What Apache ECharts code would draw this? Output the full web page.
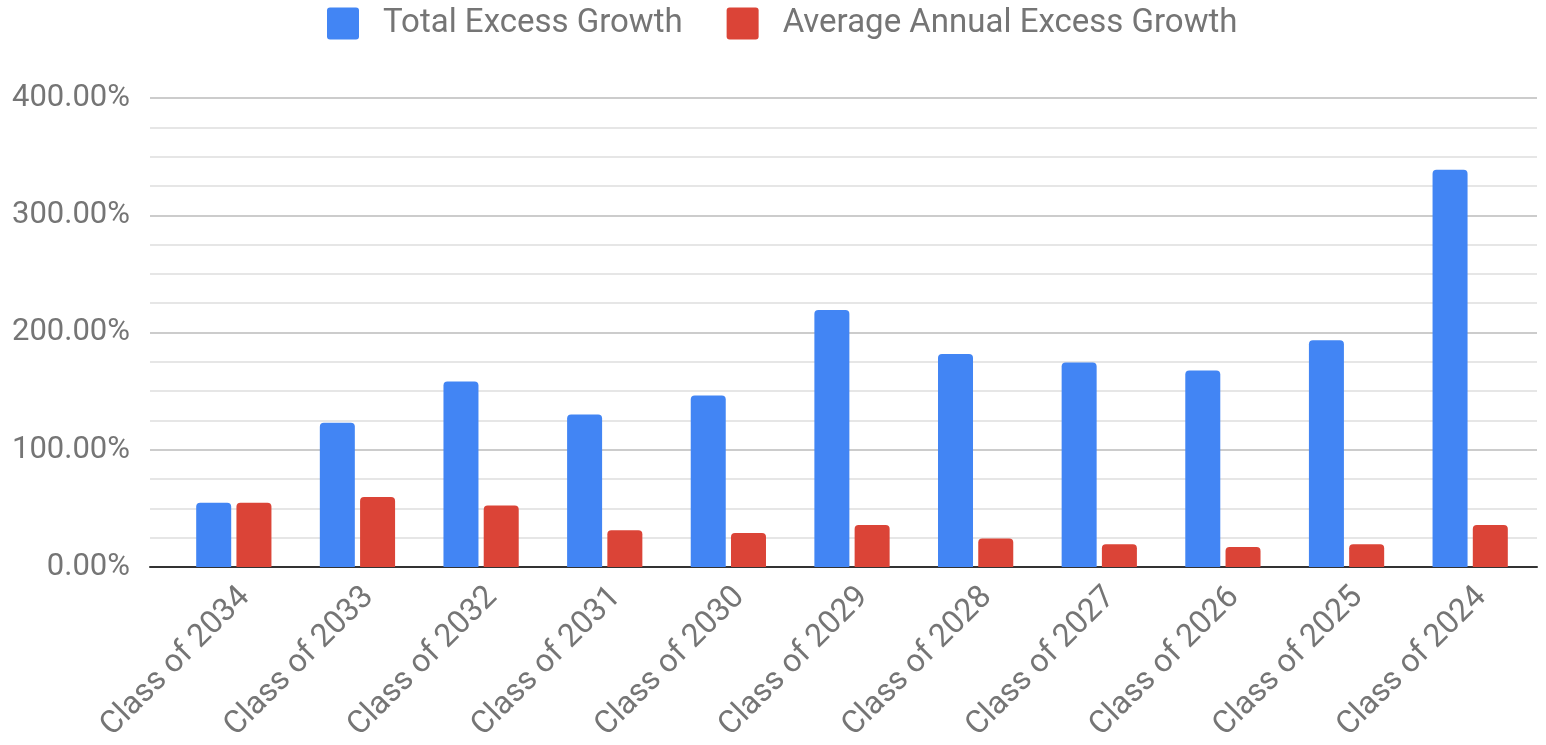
<!DOCTYPE html>
<html>
<head>
<meta charset="utf-8">
<script src="https://cdn.jsdelivr.net/npm/echarts@6/dist/echarts.min.js"></script>
<style>
html,body{margin:0;padding:0;background:#fff;}
#chart{width:1546px;height:745px;}
</style>
</head>
<body>
<div id="chart"></div>
<script>
const categories = ['Class of 2034','Class of 2033','Class of 2032','Class of 2031','Class of 2030','Class of 2029','Class of 2028','Class of 2027','Class of 2026','Class of 2025','Class of 2024'];
const totalExcess = [54.8, 123.1, 158.3, 130.0, 146.3, 219.1, 181.6, 174.4, 167.5, 193.4, 338.7];
const avgAnnualExcess = [54.8, 59.7, 52.5, 31.4, 29.1, 35.9, 24.3, 19.4, 17.1, 19.4, 35.9];
const seriesNames = ['Total Excess Growth', 'Average Annual Excess Growth'];

const chart = echarts.init(document.getElementById('chart'));
const font = 'Roboto';
const grey = '#757575';
const squareIcon = 'path://M3,0H29Q32,0,32,3V29Q32,32,29,32H3Q0,32,0,29V3Q0,0,3,0Z';
chart.setOption({
  animation: false,
  textStyle: {fontFamily: font},
  legend: {
    top: 7, left: 327, padding: 0,
    itemWidth: 32, itemHeight: 32, itemGap: 44,
    icon: squareIcon,
    textStyle: {fontSize: 33, color: grey, fontFamily: font, padding: [0,0,0,19]},
    data: seriesNames
  },
  grid: [
    {left: 172, right: 14, top: 98, bottom: 178},
    {left: 150, right: 9, top: 98, bottom: 178}
  ],
  xAxis: [
    {
      type: 'category', gridIndex: 0, data: categories,
      axisLine: {show: false}, axisTick: {show: false},
      axisLabel: {rotate: 45, fontSize: 32, color: grey, fontFamily: font, margin: 14,
        verticalAlign: 'top', interval: 0}
    },
    {
      type: 'category', gridIndex: 1, data: [''],
      axisLine: {show: true, lineStyle: {color: '#333333', width: 2}},
      axisTick: {show: false}, axisLabel: {show: false}
    }
  ],
  yAxis: [
    {type: 'value', gridIndex: 0, min: 0, max: 400, interval: 100, show: false, splitLine: {show: false}},
    {
      type: 'value', gridIndex: 1, min: 0, max: 400, interval: 100,
      axisLine: {show: false}, axisTick: {show: false},
      axisLabel: {fontSize: 31, color: grey, fontFamily: font, margin: 20,
        formatter: v => v.toFixed(2) + '%'},
      splitLine: {show: true, lineStyle: {color: '#cccccc', width: 2}},
      minorTick: {show: false, splitNumber: 4},
      minorSplitLine: {show: true, lineStyle: {color: '#e6e6e6', width: 2}}
    }
  ],
  series: [
    {
      name: seriesNames[0], type: 'bar', xAxisIndex: 0, yAxisIndex: 0,
      data: totalExcess, barWidth: 35, barGap: '15%',
      itemStyle: {color: '#4285F4', borderRadius: [4,4,0,0]}
    },
    {
      name: seriesNames[1], type: 'bar', xAxisIndex: 0, yAxisIndex: 0,
      data: avgAnnualExcess, barWidth: 35, barGap: '15%',
      itemStyle: {color: '#DB4437', borderRadius: [4,4,0,0]}
    }
  ]
});
</script>
</body>
</html>
